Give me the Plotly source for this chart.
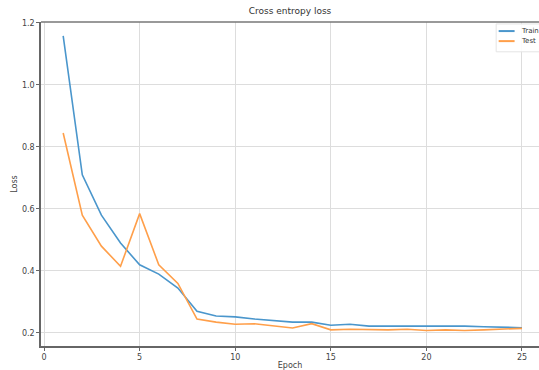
import plotly.graph_objects as go

epochs = list(range(1, 26))
train_loss = [1.158, 0.71, 0.58, 0.49, 0.42, 0.39, 0.345, 0.27, 0.255, 0.252,
              0.245, 0.24, 0.235, 0.235, 0.225, 0.228, 0.222, 0.222, 0.222, 0.222,
              0.224, 0.222, 0.22, 0.218, 0.217]
test_loss = [0.845, 0.58, 0.48, 0.415, 0.585, 0.42, 0.36, 0.245, 0.235, 0.228,
             0.23, 0.222, 0.216, 0.23, 0.21, 0.212, 0.21, 0.21, 0.212, 0.208,
             0.21, 0.208, 0.21, 0.212, 0.215]
series_names = ["Train", "Test"]
series_colors = ["#4a96cc", "#ff9f4a"]
x_ticks = [0, 5, 10, 15, 20, 25]
y_ticks = [0.2, 0.4, 0.6, 0.8, 1.0, 1.2]

fig = go.Figure()
for name, vals, col in zip(series_names, [train_loss, test_loss], series_colors):
    fig.add_trace(go.Scatter(x=epochs, y=vals, mode="lines", name=name,
                             line=dict(color=col, width=1.6), showlegend=False))

# compact matplotlib-style legend drawn in paper coordinates
shapes = [
    dict(type="line", xref="paper", yref="paper", x0=0, x1=1, y0=1, y1=1,
         line=dict(color="#777", width=1.5)),
    dict(type="rect", xref="paper", yref="paper", x0=0.914, x1=1.02, y0=0.908, y1=0.994,
         line=dict(color="#e4e4e4", width=1), fillcolor="rgba(255,255,255,0.9)"),
]
annotations = []
leg_y = [0.972, 0.941]
for name, col, ly in zip(series_names, series_colors, leg_y):
    shapes.append(dict(type="line", xref="paper", yref="paper", x0=0.919, x1=0.951,
                       y0=ly, y1=ly, line=dict(color=col, width=2)))
    annotations.append(dict(text=name, xref="paper", yref="paper", x=0.959, y=ly,
                            xanchor="left", yanchor="middle", showarrow=False,
                            font=dict(family="DejaVu Sans, sans-serif", size=7, color="#333")))

font = dict(family="DejaVu Sans, sans-serif", size=8, color="#444")
fig.update_layout(
    width=539, height=370,
    margin=dict(l=41, r=0, t=22, b=21),
    paper_bgcolor="white", plot_bgcolor="white",
    font=font,
    title=dict(text="Cross entropy loss", x=0.5, xanchor="center", xref="paper",
               y=1, yref="container", yanchor="top", pad=dict(t=8),
               font=dict(family="DejaVu Sans, sans-serif", size=9, color="#333")),
    showlegend=False,
    shapes=shapes,
    annotations=annotations,
)
fig.update_xaxes(range=[-0.16, 25.89], tickvals=x_ticks,
                 ticktext=[str(v) for v in x_ticks],
                 showgrid=True, gridcolor="#ddd", gridwidth=1,
                 showline=True, linecolor="#666", linewidth=1.5,
                 ticks="outside", ticklen=3, tickcolor="#666", zeroline=False,
                 title=dict(text="Epoch", standoff=2,
                            font=dict(family="DejaVu Sans, sans-serif", size=8, color="#444")))
fig.update_yaxes(range=[0.158, 1.203], tickvals=y_ticks,
                 ticktext=["0.2", "0.4", "0.6", "0.8", "1.0", "1.2"],
                 showgrid=True, gridcolor="#ddd", gridwidth=1,
                 showline=True, linecolor="#666", linewidth=1.5,
                 ticks="outside", ticklen=3, tickcolor="#666", zeroline=False,
                 title=dict(text="Loss", standoff=3,
                            font=dict(family="DejaVu Sans, sans-serif", size=8, color="#444")))

fig.write_html("out.html")
